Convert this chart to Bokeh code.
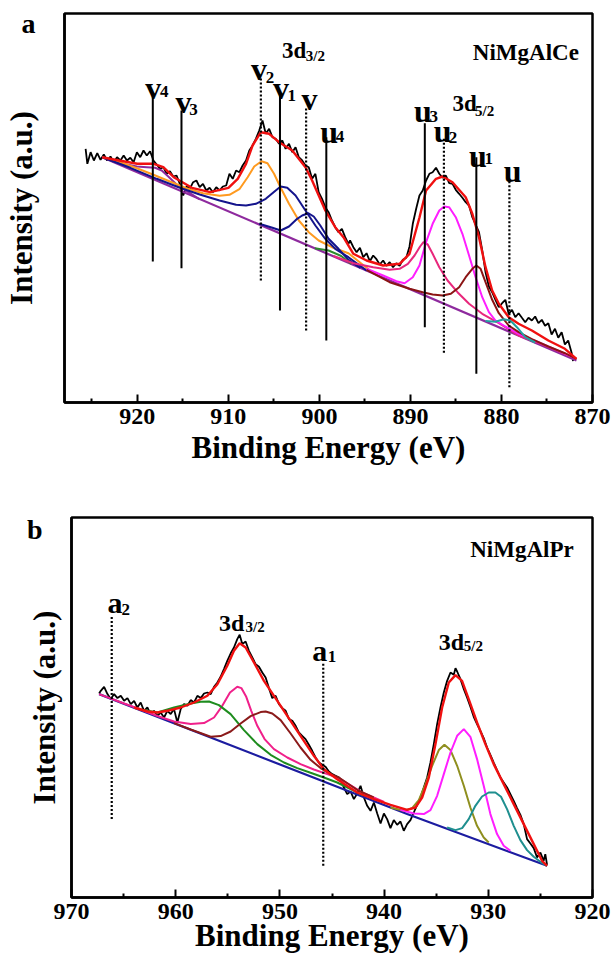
from bokeh.plotting import figure
from bokeh.models import Range1d, FixedTicker, Label
from bokeh.embed import file_html
from bokeh.resources import INLINE

FONT = "Liberation Serif"

# ---------------- Panel a : NiMgAlCe (Ce 3d) ----------------
a_ticks = [920, 910, 900, 890, 880, 870]
a_minor = [925, 915, 905, 895, 885, 875]

a_raw_e = [925.68, 925.49, 925.13, 924.77, 924.40, 924.04, 923.68, 923.32, 922.95, 922.59, 922.23,
           921.86, 921.50, 921.14, 920.77, 920.41, 920.05, 919.68, 919.32, 918.96, 918.60,
           918.23, 917.87, 917.51, 917.14, 916.78, 916.42, 916.05, 915.69, 915.33, 914.96,
           914.60, 914.24, 913.87, 913.51, 913.15, 912.79, 912.42, 912.06, 911.70, 911.33,
           910.97, 910.61, 910.24, 909.88, 909.52, 909.15, 908.79, 908.43, 908.06, 907.70,
           907.34, 906.98, 906.61, 906.25, 905.89, 905.52, 905.16, 904.80, 904.43, 904.07,
           903.71, 903.34, 902.98, 902.62, 902.26, 901.89, 901.53, 901.17, 900.80, 900.44,
           900.08, 899.71, 899.35, 898.99, 898.62, 898.26, 897.90, 897.53, 897.17, 896.81,
           896.63, 896.27, 895.91, 895.55, 895.18, 894.82, 894.46, 894.09, 893.73, 893.37,
           893.00, 892.64, 892.28, 891.91, 891.55, 891.19, 890.83, 890.46, 890.10, 889.74,
           889.37, 889.01, 888.65, 888.28, 887.92, 887.56, 887.19, 886.83, 886.47, 886.11,
           885.74, 885.38, 885.02, 884.65, 884.29, 883.93, 883.56, 883.20, 882.84, 882.47,
           882.11, 881.75, 881.38, 881.02, 880.66, 880.29, 879.93, 879.57, 879.21, 878.84,
           878.48, 878.12, 877.75, 877.39, 877.03, 876.66, 876.30, 875.94, 875.57, 875.21,
           874.85, 874.49, 874.12, 873.76, 873.39, 873.03, 872.67, 872.31, 872.13]
a_raw_i = [253.7, 238.7, 250.3, 242.0, 249.3, 242.7, 248.0, 242.0, 246.0, 240.3, 245.3,
           242.0, 247.0, 242.0, 244.7, 240.3, 250.3, 245.3, 252.0, 247.0, 251.3,
           242.0, 238.0, 233.7, 235.3, 228.7, 231.3, 226.0, 227.0, 218.7, 207.0,
           216.0, 213.7, 220.3, 222.0, 215.3, 218.7, 212.0, 214.7, 210.3, 215.3,
           212.0, 216.0, 217.0, 228.7, 223.7, 232.0, 230.3, 237.0, 242.0, 252.0,
           257.0, 263.7, 272.0, 282.0, 268.7, 273.7, 265.3, 263.7, 258.7, 262.0,
           253.7, 258.7, 250.3, 255.3, 245.3, 242.0, 237.0, 235.3, 223.7, 228.7,
           210.3, 203.7, 195.3, 190.3, 182.0, 175.3, 170.3, 173.7, 165.3, 158.7,
           162.0, 155.3, 150.3, 154.7, 145.3, 149.3, 141.3, 147.0, 143.3, 138.0,
           142.0, 136.7, 140.3, 135.3, 139.3, 136.7, 142.7, 144.7, 156.0, 178.7,
           193.7, 207.0, 212.0, 222.0, 228.7, 230.3, 234.7, 228.7, 224.7, 227.0,
           219.3, 218.7, 212.7, 208.7, 204.7, 200.3, 197.0, 185.3, 178.0, 170.3,
           152.0, 130.3, 116.0, 110.3, 102.7, 95.3, 99.3, 102.7, 88.7, 92.7,
           85.3, 89.3, 84.7, 80.3, 84.7, 82.0, 86.0, 79.3, 82.7, 76.7,
           79.3, 68.0, 73.7, 64.7, 70.3, 58.0, 62.0, 50.3, 41.3]

a_fit_e = [923.86, 922.0, 920.0, 918.2, 917.15, 916.0, 914.0, 912.0, 909.99, 908.97, 908.06,
           907.34, 906.43, 905.52, 904.43, 902.98, 901.53, 900.80, 899.35, 898.26, 897.36,
           896.27, 894.82, 893.0, 891.19, 890.1, 889.0, 888.28, 887.19, 886.47, 885.38,
           883.93, 883.2, 882.47, 881.75, 881.02, 880.29, 879.2, 878.12, 876.66, 874.85,
           873.03, 871.76]
a_fit_i = [245.3, 242.0, 238.7, 238.7, 235.3, 225.3, 214.7, 210.3, 214.7, 223.7, 238.7,
           257.0, 270.3, 268.7, 260.3, 252.0, 235.3, 222.0, 192.0, 175.3, 165.3,
           148.7, 142.0, 137.0, 138.7, 148.7, 185.3, 212.0, 223.7, 226.0, 220.3,
           205.3, 188.7, 165.3, 135.3, 112.0, 98.7, 85.3, 78.7, 72.0, 62.0,
           53.7, 43.7]

a_base_e = [923.86, 871.76]
a_base_i = [245.3, 42.0]

a_v4_e = [923.86, 921.86, 920.05, 918.96, 918.05, 917.32, 916.6, 915.69, 914.78, 913.15]
a_v4_i = [245.3, 239.3, 236.0, 235.3, 234.7, 232.0, 226.0, 218.0, 212.7, 203.1]

a_v2_e = [923.86, 921.86, 920.05, 918.23, 916.42, 914.6, 912.79, 910.97, 909.88, 908.79, 907.88,
          907.16, 906.36, 905.7, 904.98, 904.25, 903.34, 902.26, 901.17, 900.08, 898.62,
          896.81, 894.0]
a_v2_i = [245.3, 240.3, 234.3, 227.7, 221.0, 214.3, 209.3, 206.7, 207.7, 213.3, 225.3,
          236.0, 241.3, 239.3, 228.7, 214.7, 198.7, 182.0, 170.3, 162.0, 155.3,
          149.3, 128.8]

a_v1_e = [923.86, 920.77, 917.87, 915.33, 913.15, 910.97, 909.15, 908.06, 906.98, 905.89,
          904.8, 904.25, 903.53, 902.62, 901.53, 900.44, 899.35, 898.26, 896.81, 894.8]
a_v1_i = [245.3, 234.7, 223.7, 214.7, 208.0, 202.0, 197.7, 197.0, 198.7, 203.7,
          212.0, 216.0, 214.7, 207.0, 192.0, 177.0, 163.7, 153.7, 145.3, 131.9]

a_v_e = [906.61, 905.16, 904.25, 903.34, 902.44, 901.89, 901.24, 900.62, 899.9, 898.99,
         897.9, 896.81, 895.5]
a_v_i = [178.7, 174.7, 172.0, 176.0, 183.7, 187.0, 189.3, 186.0, 177.0, 163.7,
         153.7, 142.7, 134.6]

a_u4_e = [900.5, 899.0, 897.6, 896.5]
a_u4_i = [154.2, 152.0, 146.5, 138.5]

a_u3_e = [898.45, 896.27, 894.09, 892.28, 891.19, 890.28, 889.55, 888.94, 888.57, 888.1,
          887.56, 886.83, 885.92, 884.83, 883.56, 882.11, 880.29, 878.12, 875.94, 873.76, 871.94]
a_u3_i = [146.5, 139.3, 135.3, 132.7, 133.7, 138.7, 147.0, 156.0, 160.3, 158.0,
          148.7, 135.3, 122.0, 110.3, 98.7, 88.7, 79.3, 67.0, 59.7, 51.3, 44.3]

a_u2_e = [894.82, 893.0, 891.55, 890.64, 889.74, 889.01, 888.28, 887.56, 886.83, 886.29, 885.74,
          885.02, 884.29, 883.56, 882.84, 882.11, 881.38, 880.66, 879.57, 878.12, 875.94, 871.94]
a_u2_i = [133.7, 127.0, 121.3, 119.3, 125.3, 137.0, 160.3, 178.7, 192.0, 196.0, 195.3,
          185.3, 168.7, 147.0, 125.3, 105.3, 90.3, 82.0, 76.0, 68.7, 60.3, 44.7]

a_u1_e = [894.82, 892.28, 890.1, 888.65, 887.56, 886.47, 885.56, 884.65, 883.93, 883.2, 882.76,
          882.29, 881.75, 881.02, 880.29, 879.21, 878.12, 876.66, 874.85, 873.03, 871.76]
a_u1_i = [132.7, 120.3, 113.7, 110.3, 108.0, 107.0, 108.7, 115.3, 125.3, 133.7, 137.0,
          133.7, 120.3, 102.7, 89.3, 77.0, 70.3, 63.3, 56.0, 49.3, 43.7]

a_u_e = [881.75, 880.66, 879.75, 879.02, 878.3, 877.39, 876.3]
a_u_i = [81.5, 80.7, 83.3, 82.0, 75.3, 65.3, 60.0]

a_solid_e = [918.3, 915.15, 904.33, 899.24, 888.42, 882.76]
a_solid_top = [307.0, 292.0, 309.7, 265.3, 279.3, 245.3]
a_solid_bot = [141.0, 134.3, 92.0, 62.0, 75.3, 28.7]
a_dot_e = [906.43, 901.46, 886.32, 879.13]
a_dot_top = [326.0, 296.0, 265.3, 223.0]
a_dot_bot = [122.0, 72.0, 49.7, 15.3]

# ---------------- Panel b : NiMgAlPr (Pr 3d) ----------------
b_ticks = [970, 960, 950, 940, 930, 920]
b_minor = [965, 955, 945, 935, 925]

b_raw_e = [967.35, 967.19, 966.87, 966.55, 966.23, 965.91, 965.59, 965.27, 964.95, 964.63,
           964.31, 963.99, 963.68, 963.36, 963.04, 962.72, 962.40, 962.08, 961.76, 961.44,
           961.12, 960.80, 960.48, 960.16, 959.84, 959.52, 959.20, 958.88, 958.56, 958.24,
           957.92, 957.60, 957.28, 956.96, 956.64, 956.32, 956.00, 955.69, 955.37, 955.05,
           954.73, 954.41, 954.09, 953.86, 953.61, 953.29, 952.97, 952.65, 952.33, 952.01,
           951.69, 951.37, 951.05, 950.73, 950.41, 950.09, 949.77, 949.45, 949.13, 948.81,
           948.49, 948.18, 947.86, 947.54, 947.22, 946.90, 946.58, 946.26, 945.94, 945.62,
           945.30, 944.98, 944.66, 944.34,
           944.18, 943.86, 943.54, 943.22, 942.90, 942.58, 942.26, 941.94, 941.62, 941.30,
           940.98, 940.66, 940.34, 940.02, 939.71, 939.39, 939.07, 938.75, 938.43, 938.11,
           937.79, 937.47, 937.15, 936.83, 936.51, 936.19, 935.87, 935.55, 935.23, 934.91,
           934.59, 934.27, 933.95, 933.63, 933.31, 933.15, 932.99, 932.67, 932.35, 932.04,
           931.72, 931.40, 931.08, 930.76, 930.44, 930.12, 929.80, 929.48, 929.16, 928.84,
           928.52, 928.20, 927.88, 927.56, 927.24, 926.92, 926.60, 926.28, 925.96, 925.64,
           925.32, 925.00, 924.69, 924.53, 924.36]
b_raw_i = [204.0, 206.7, 210.7, 203.4, 198.4, 203.4, 199.4, 201.7, 196.7, 199.4,
           193.4, 196.7, 190.0, 195.0, 186.7, 190.0, 183.4, 186.7, 181.7, 185.0,
           180.0, 186.7, 183.4, 188.4, 175.0, 188.4, 193.4, 191.7, 197.4, 195.0,
           201.7, 199.4, 204.0, 205.0, 203.4, 210.7, 215.0, 220.7, 228.4, 236.7,
           244.0, 250.0, 258.4, 262.7, 253.4, 256.0, 246.7, 240.0, 233.4, 230.7,
           225.0, 220.0, 209.4, 199.4, 201.7, 193.4, 189.4, 186.7, 178.4, 176.7,
           171.7, 165.0, 161.7, 158.4, 152.7, 146.7, 140.0, 135.0, 132.7, 130.7,
           126.0, 123.4, 121.7, 120.0,
           118.4, 110.0, 103.4, 106.0, 98.4, 104.0, 111.7, 100.0, 91.7, 86.7,
           95.0, 84.0, 74.0, 84.0, 78.4, 69.4, 77.4, 72.7, 76.0, 66.7,
           73.4, 77.4, 85.0, 92.7, 100.0, 110.0, 120.0, 135.0, 153.4, 173.4,
           190.0, 205.0, 216.7, 225.0, 222.7, 229.4, 226.0, 218.4, 208.4, 200.0,
           190.7, 180.7, 173.4, 166.7, 159.4, 150.0, 142.7, 135.0, 127.4, 120.0,
           115.0, 110.0, 103.4, 96.7, 89.4, 82.7, 73.4, 58.4, 54.0, 49.4,
           40.0, 45.0, 36.7, 43.4, 32.7]

b_fit_e = [963.99, 962.72, 961.76, 960.8, 959.52, 958.24, 956.96, 956.0, 955.05, 954.41,
           953.86, 953.29, 952.49, 951.53, 950.57, 949.61, 948.66, 947.7, 946.74, 945.78,
           944.5, 942.58, 940.98, 939.39, 937.79, 936.99, 936.35, 935.71, 935.07, 934.43,
           933.79, 933.15, 932.52, 931.88, 931.08, 930.28, 929.48, 928.52, 927.56, 926.6,
           925.64, 924.84, 924.36]
b_fit_i = [190.0, 186.0, 185.0, 186.7, 190.0, 195.0, 201.7, 213.3, 231.7, 246.7,
           254.3, 250.0, 235.0, 216.7, 201.7, 186.7, 171.7, 156.7, 141.7, 128.3,
           118.3, 105.0, 98.4, 92.7, 87.7, 90.0, 100.0, 120.0, 153.4, 190.0,
           215.0, 222.4, 216.7, 198.4, 175.0, 153.4, 133.4, 113.4, 93.4, 73.4,
           53.4, 36.7, 31.7]

b_base_e = [967.35, 937.79, 924.36]
b_base_i = [203.4, 83.5, 31.7]

b_green_e = [963.36, 961.76, 960.16, 958.56, 957.6, 956.8, 955.85, 954.73, 953.45, 952.17,
             950.89, 949.61, 948.33, 947.06, 945.78, 944.5, 942.0]
b_green_i = [188.0, 185.0, 190.0, 194.0, 195.7, 196.0, 192.4, 183.4, 167.4, 153.4,
             142.7, 135.0, 129.4, 124.7, 120.0, 115.0, 102.1]

b_pink_e = [967.35, 964.95, 963.36, 961.76, 960.16, 958.56, 957.28, 956.32, 955.53, 954.79,
            954.09, 953.7, 953.23, 952.75, 952.17, 951.47, 950.57, 949.29, 948.02, 946.74,
            945.46, 944.34, 942.0, 940.0]
b_pink_i = [203.4, 194.0, 188.0, 181.5, 176.0, 173.4, 174.4, 180.0, 191.7, 205.0,
            210.7, 209.4, 200.7, 186.7, 171.7, 158.4, 148.4, 140.0, 133.4, 128.0,
            123.4, 119.4, 104.5, 95.5]

b_brown_e = [960.16, 958.56, 956.64, 955.69, 954.73, 953.77, 952.81, 951.85, 951.37, 950.73,
             949.93, 948.97, 948.02, 947.06, 946.1, 945.14, 944.34, 942.5, 941.0]
b_brown_i = [174.4, 168.0, 160.7, 161.4, 166.0, 174.0, 181.4, 185.4, 186.0, 184.0,
             177.4, 164.0, 150.0, 137.7, 129.4, 123.4, 120.0, 107.0, 100.0]

b_olive_e = [939.39, 938.11, 937.31, 936.67, 936.03, 935.39, 934.75, 934.21, 933.63, 932.99,
             932.35, 931.72, 931.08, 930.44, 929.96]
b_olive_i = [90.0, 86.7, 89.4, 97.4, 113.4, 131.7, 147.4, 152.7, 147.4, 131.7,
             111.7, 90.0, 71.7, 60.0, 55.0]

b_mag_e = [938.43, 937.15, 936.19, 935.55, 934.91, 934.27, 933.63, 932.99, 932.35, 931.72,
           931.08, 930.44, 929.8, 929.16, 928.52, 927.88]
b_mag_i = [87.7, 84.0, 83.4, 87.4, 101.7, 123.4, 145.0, 161.7, 168.4, 160.7,
           138.4, 111.7, 83.4, 63.4, 51.7, 46.7]

b_teal_e = [933.95, 933.15, 932.51, 931.88, 931.24, 930.6, 929.96, 929.32, 928.78, 928.2,
            927.56, 926.92, 926.28, 925.64, 925.0, 924.36]
b_teal_i = [70.0, 67.4, 69.4, 78.4, 91.7, 101.0, 105.0, 105.0, 100.7, 88.4,
            71.7, 57.4, 47.4, 40.7, 35.7, 31.7]

b_dot_e = [966.14, 945.84]
b_dot_top = [281.7, 235.0]
b_dot_bot = [78.4, 31.7]

# panel letters shown as the single tick label of each left axis
a_letter_pos = 379.5
b_letter_pos = 368.0


def make_fig(xr, yr, h, top, bottom, left, ticks, minor, letter, letter_pos,
             ylab_standoff, xlab_standoff):
    p = figure(width=613, height=h, x_range=Range1d(*xr), y_range=Range1d(*yr),
               output_backend="svg", toolbar_location=None,
               min_border_left=left, min_border_right=21,
               min_border_top=top, min_border_bottom=bottom)
    p.grid.visible = False
    p.background_fill_color = "white"
    p.border_fill_color = "white"
    p.outline_line_color = "black"
    p.outline_line_width = 2.5
    p.outline_line_alpha = 1.0
    xa = p.xaxis[0]
    xa.ticker = FixedTicker(ticks=ticks, minor_ticks=minor)
    xa.major_tick_in = 8
    xa.major_tick_out = 0
    xa.minor_tick_in = 4
    xa.minor_tick_out = 0
    xa.major_tick_line_width = 2
    xa.minor_tick_line_width = 2
    xa.axis_line_width = 2.5
    xa.major_label_text_font = FONT
    xa.major_label_text_font_size = "24px"
    xa.major_label_text_font_style = "bold"
    xa.major_label_text_color = "black"
    xa.major_label_standoff = 6
    xa.axis_label = "Binding Energy (eV)"
    xa.axis_label_text_font = FONT
    xa.axis_label_text_font_size = "31px"
    xa.axis_label_text_font_style = "bold"
    xa.axis_label_text_color = "black"
    xa.axis_label_standoff = xlab_standoff
    ya = p.yaxis[0]
    ya.ticker = FixedTicker(ticks=[letter_pos])
    ya.major_label_overrides = {letter_pos: letter}
    ya.major_label_text_font = FONT
    ya.major_label_text_font_size = "28px"
    ya.major_label_text_font_style = "bold"
    ya.major_label_text_color = "black"
    ya.major_label_standoff = 29
    ya.major_tick_in = 0
    ya.major_tick_out = 0
    ya.minor_tick_in = 0
    ya.minor_tick_out = 0
    ya.axis_line_width = 2.5
    ya.axis_label = "Intensity (a.u.)"
    ya.axis_label_text_font = FONT
    ya.axis_label_text_font_size = "31px"
    ya.axis_label_text_font_style = "bold"
    ya.axis_label_text_color = "black"
    ya.axis_label_standoff = ylab_standoff
    return p


def txt(p, x, y, s, size, align="left"):
    p.add_layout(Label(x=x, y=y, text=s, text_font=FONT, text_font_size=size,
                       text_font_style="bold", text_color="black",
                       text_baseline="alphabetic", text_align=align))


def sub_label(p, x, y, main, xs, ys, sub, size_main="32px", size_sub="17px"):
    txt(p, x, y, main, size_main)
    txt(p, xs, ys, sub, size_sub)


# ---- figure a ----
pa = make_fig((928, 870), (0, 389), 480, 13, 78, 59, a_ticks, a_minor,
              "a", a_letter_pos, -20, 3)
pa.line(a_raw_e, a_raw_i, line_color="black", line_width=1.8)
pa.line(a_base_e, a_base_i, line_color="#8E2A9E", line_width=2.2)
pa.line(a_v4_e, a_v4_i, line_color="#8E2A9E", line_width=2.0)
pa.line(a_v2_e, a_v2_i, line_color="#FF9A1F", line_width=2.0)
pa.line(a_v1_e, a_v1_i, line_color="#14148C", line_width=2.0)
pa.line(a_v_e, a_v_i, line_color="#14148C", line_width=2.0)
pa.line(a_u4_e, a_u4_i, line_color="#2E8B2E", line_width=2.0)
pa.line(a_u3_e, a_u3_i, line_color="#E8287C", line_width=2.0)
pa.line(a_u2_e, a_u2_i, line_color="#FF1EFF", line_width=2.0)
pa.line(a_u1_e, a_u1_i, line_color="#8B1414", line_width=2.0)
pa.line(a_u_e, a_u_i, line_color="#23A0A0", line_width=2.0)
pa.line(a_fit_e, a_fit_i, line_color="#F01010", line_width=2.4)
pa.segment(x0=a_solid_e, y0=a_solid_bot, x1=a_solid_e, y1=a_solid_top,
           line_color="black", line_width=2)
pa.segment(x0=a_dot_e, y0=a_dot_bot, x1=a_dot_e, y1=a_dot_top,
           line_color="black", line_width=2.2, line_dash="2 2")

txt(pa, 871.5, 350.3, "NiMgAlCe", "23px", align="right")
sub_label(pa, 919.14, 315.0, "v", 917.5, 311.0, "4")
sub_label(pa, 915.8, 300.3, "v", 914.3, 293.0, "3")
sub_label(pa, 907.52, 333.7, "v", 905.9, 325.5, "2")
sub_label(pa, 905.09, 314.7, "v", 903.5, 307.5, "1")
txt(pa, 901.97, 303.7, "v", "32px")
sub_label(pa, 904.11, 352.0, "3d", 901.5, 347.0, "3/2", "23px", "15px")
sub_label(pa, 899.9, 270.3, "u", 898.2, 266.5, "4")
sub_label(pa, 889.62, 292.0, "u", 887.9, 286.5, "3")
sub_label(pa, 887.44, 272.0, "u", 885.8, 265.0, "2")
sub_label(pa, 885.37, 298.7, "3d", 882.9, 292.0, "5/2", "23px", "15px")
sub_label(pa, 883.56, 247.0, "u", 881.85, 244.5, "1")
txt(pa, 879.74, 232.0, "u", "32px")

# ---- figure b ----
pb = make_fig((970, 920), (0, 380), 480, 37, 63, 71, b_ticks, b_minor,
              "b", b_letter_pos, -38, -4)
pb.line(b_raw_e, b_raw_i, line_color="black", line_width=1.8)
pb.line(b_base_e, b_base_i, line_color="#1C1CA0", line_width=2.2)
pb.line(b_pink_e, b_pink_i, line_color="#F0208A", line_width=2.0)
pb.line(b_green_e, b_green_i, line_color="#1E8C1E", line_width=2.0)
pb.line(b_brown_e, b_brown_i, line_color="#8B1A1A", line_width=2.0)
pb.line(b_olive_e, b_olive_i, line_color="#8F8F1F", line_width=2.0)
pb.line(b_mag_e, b_mag_i, line_color="#FF1EFF", line_width=2.0)
pb.line(b_teal_e, b_teal_i, line_color="#1F8F8F", line_width=2.0)
pb.line(b_fit_e, b_fit_i, line_color="#F01010", line_width=2.4)
pb.segment(x0=b_dot_e, y0=b_dot_bot, x1=b_dot_e, y1=b_dot_top,
           line_color="black", line_width=2.2, line_dash="2 2")

txt(pb, 921.81, 348.4, "NiMgAlPr", "23px", align="right")
sub_label(pb, 966.55, 295.0, "a", 965.2, 288.0, "2", "30px", "17px")
sub_label(pb, 955.85, 275.0, "3d", 953.29, 271.0, "3/2", "24px", "15px")
sub_label(pb, 946.89, 246.7, "a", 945.4, 241.0, "1", "30px", "17px")
sub_label(pb, 934.76, 256.0, "3d", 932.36, 251.7, "5/2", "24px", "15px")

open("out.html", "w").write(file_html([pa, pb], INLINE))
